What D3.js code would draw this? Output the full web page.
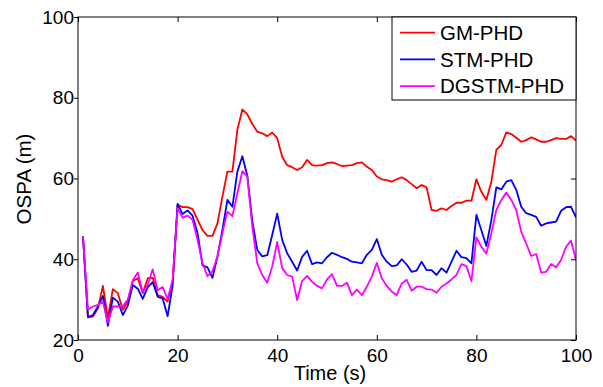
<!DOCTYPE html>
<html>
<head>
<meta charset="utf-8">
<script src="https://cdnjs.cloudflare.com/ajax/libs/d3/7.8.5/d3.min.js"></script>
<style>
    html, body { margin: 0; padding: 0; background: #fff; }
</style>
</head>
<body>
<script>
const fontFamily = "\"Liberation Sans\", Arial, Helvetica, sans-serif";

let width = 603;
let height = 387;

const seriesNames = ["GM-PHD", "STM-PHD", "DGSTM-PHD"];
const seriesColors = ["#ff0000", "#0000ff", "#ff00ff"];

const xTicks = [0, 20, 40, 60, 80, 100];
const yTicks = [20, 40, 60, 80, 100];

// OSPA per time step, t = 1..100
const gmPhd = [
    45.7, 25.6, 25.8, 27.8, 33.4, 25.5, 32.6, 31.6, 27.5, 29.5,
    34.6, 35.3, 31.6, 35.3, 35.4, 31.1, 30.7, 29.5, 34.5, 53.5,
    52.9, 52.9, 52.4, 49.8, 47.2, 45.8, 45.8, 48.9, 55.5, 61.7,
    61.7, 72.0, 77.1, 75.9, 73.5, 71.6, 71.2, 70.5, 71.4, 70.0,
    65.4, 63.3, 62.8, 62.1, 62.8, 64.6, 63.3, 63.2, 63.3, 63.8,
    64.0, 63.6, 63.1, 63.2, 63.3, 63.8, 64.0, 62.9, 62.1, 60.5,
    59.8, 59.6, 59.2, 59.8, 60.3, 59.6, 58.6, 57.6, 58.4, 57.8,
    52.2, 52.0, 52.6, 52.2, 53.2, 54.0, 54.0, 54.5, 54.5, 59.8,
    56.7, 54.7, 59.2, 67.1, 68.3, 71.4, 71.0, 70.1, 69.1, 69.5,
    70.2, 69.7, 69.1, 69.1, 69.5, 70.0, 69.8, 69.8, 70.5, 69.4
];

const stmPhd = [
    45.7, 25.7, 26.2, 28.3, 30.9, 23.5, 30.5, 29.5, 26.2, 28.5,
    33.6, 32.7, 30.2, 33.1, 34.3, 30.7, 30.3, 25.9, 33.5, 53.7,
    51.2, 52.1, 50.8, 46.5, 38.5, 38.0, 35.4, 40.7, 47.3, 54.7,
    53.0, 61.7, 65.5, 60.7, 49.5, 42.3, 40.7, 41.0, 46.0, 51.3,
    44.8, 41.5, 39.4, 37.2, 40.6, 42.1, 38.8, 39.2, 39.0, 40.5,
    41.6, 41.1, 40.5, 40.1, 39.4, 39.2, 39.0, 41.1, 42.3, 45.0,
    41.1, 39.4, 38.3, 38.5, 40.0, 38.7, 36.9, 37.2, 39.4, 37.3,
    37.3, 36.1, 37.8, 36.7, 39.4, 42.1, 40.5, 40.3, 39.0, 51.0,
    47.2, 43.3, 49.7, 57.8, 57.3, 59.2, 59.6, 57.2, 53.0, 51.4,
    51.0, 50.5, 48.3, 48.9, 49.1, 49.3, 52.0, 52.9, 53.0, 50.4
];

const dgstmPhd = [
    45.7, 27.6, 28.3, 28.7, 29.5, 24.3, 28.3, 28.3, 28.4, 30.0,
    34.8, 36.7, 31.8, 33.7, 37.5, 32.3, 33.1, 30.1, 34.9, 52.6,
    50.3, 50.8, 49.8, 44.8, 39.1, 35.8, 37.0, 40.7, 46.5, 51.8,
    50.7, 56.3, 61.8, 60.5, 48.1, 39.0, 36.1, 34.2, 38.2, 44.3,
    37.8, 36.1, 35.7, 29.9, 34.6, 35.9, 34.4, 33.4, 32.8, 35.0,
    36.3, 33.4, 33.4, 34.2, 31.1, 32.5, 31.1, 33.2, 35.7, 39.1,
    35.3, 33.4, 32.0, 31.1, 34.0, 34.9, 32.2, 33.2, 33.2, 32.6,
    32.5, 31.7, 33.2, 34.0, 35.0, 36.1, 38.8, 38.3, 34.6, 45.4,
    43.1, 41.4, 46.4, 52.2, 54.7, 56.5, 54.7, 52.2, 46.8, 43.9,
    40.8, 41.3, 36.7, 36.9, 38.8, 38.0, 39.8, 43.1, 44.6, 39.8
];

const margin = { top: 17, right: 27, bottom: 47, left: 78 };


function createSvg() {
    return d3.select("body")
        .append("svg")
        .attr("width", width)
        .attr("height", height)
        .style("font-family", fontFamily);
}


function drawAxes(svg, x, y) {
    let plotW = width - margin.left - margin.right;
    let plotH = height - margin.top - margin.bottom;

    // bottom: ticks inside
    svg.append("g")
        .attr("transform", `translate(0,${margin.top + plotH})`)
        .call(d3.axisBottom(x).tickValues(xTicks).tickSizeInner(-5).tickSizeOuter(0).tickPadding(9))
        .call(g => g.select(".domain").remove());

    // top: ticks only
    svg.append("g")
        .attr("transform", `translate(0,${margin.top})`)
        .call(d3.axisTop(x).tickValues(xTicks).tickSizeInner(-5).tickSizeOuter(0).tickFormat(""))
        .call(g => g.select(".domain").remove());

    // left: ticks outside
    svg.append("g")
        .attr("transform", `translate(${margin.left},0)`)
        .call(d3.axisLeft(y).tickValues(yTicks).tickSizeInner(4).tickSizeOuter(0).tickPadding(0))
        .call(g => g.select(".domain").remove());

    // right: ticks inside
    svg.append("g")
        .attr("transform", `translate(${margin.left + plotW},0)`)
        .call(d3.axisRight(y).tickValues(yTicks).tickSizeInner(-5).tickSizeOuter(0).tickFormat(""))
        .call(g => g.select(".domain").remove());

    svg.selectAll(".tick text")
        .attr("font-size", 19)
        .attr("font-family", fontFamily)
        .attr("fill", "#000");
    svg.selectAll(".tick line")
        .attr("stroke", "#000");

    svg.append("rect")
        .attr("x", margin.left)
        .attr("y", margin.top)
        .attr("width", plotW)
        .attr("height", plotH)
        .attr("fill", "none")
        .attr("stroke", "#000")
        .attr("stroke-width", 1);

    svg.append("text")
        .attr("x", 330)
        .attr("y", 380)
        .attr("text-anchor", "middle")
        .attr("font-size", 20)
        .text("Time (s)");

    svg.append("text")
        .attr("transform", "translate(31,179) rotate(-90)")
        .attr("text-anchor", "middle")
        .attr("font-size", 20.5)
        .text("OSPA (m)");
}


function drawLines(svg, x, y, series) {
    let line = d3.line()
        .x((d, i) => x(i + 1))
        .y(d => y(d));

    svg.append("clipPath")
        .attr("id", "plot-clip")
        .append("rect")
        .attr("x", margin.left)
        .attr("y", margin.top)
        .attr("width", width - margin.left - margin.right)
        .attr("height", height - margin.top - margin.bottom);

    svg.append("g")
        .attr("clip-path", "url(#plot-clip)")
        .selectAll("path.series")
        .data(series)
        .enter()
        .append("path")
        .classed("series", true)
        .attr("d", d => line(d.values))
        .attr("fill", "none")
        .attr("stroke", d => d.color)
        .attr("stroke-width", 1.8)
        .attr("stroke-linejoin", "round");
}


function drawLegend(svg, series) {
    let right = width - margin.right;
    let box = svg.append("g").classed("legend", true);

    box.append("rect")
        .attr("x", 392)
        .attr("y", margin.top)
        .attr("width", right - 392)
        .attr("height", 83)
        .attr("fill", "#fff")
        .attr("stroke", "#000")
        .attr("stroke-width", 1);

    let rows = box.selectAll("g.row")
        .data(series)
        .enter()
        .append("g")
        .classed("row", true)
        .attr("transform", (d, i) => `translate(0,${32.7 + i * 26.7})`);

    rows.append("line")
        .attr("x1", 400)
        .attr("x2", 435)
        .attr("stroke", d => d.color)
        .attr("stroke-width", 1.8);

    rows.append("text")
        .attr("x", 440)
        .attr("y", 0)
        .attr("dy", "0.35em")
        .attr("font-size", 20.5)
        .text(d => d.name);
}


function createDrawing() {
    let svg = createSvg();

    let x = d3.scaleLinear()
        .domain([0, 100])
        .range([margin.left, width - margin.right]);
    let y = d3.scaleLinear()
        .domain([20, 100])
        .range([height - margin.bottom, margin.top]);

    let values = [gmPhd, stmPhd, dgstmPhd];
    let series = seriesNames.map((name, i) => ({
        name: name,
        color: seriesColors[i],
        values: values[i]
    }));

    drawLines(svg, x, y, series);
    drawAxes(svg, x, y);
    drawLegend(svg, series);
}


createDrawing();
</script>
</body>
</html>
